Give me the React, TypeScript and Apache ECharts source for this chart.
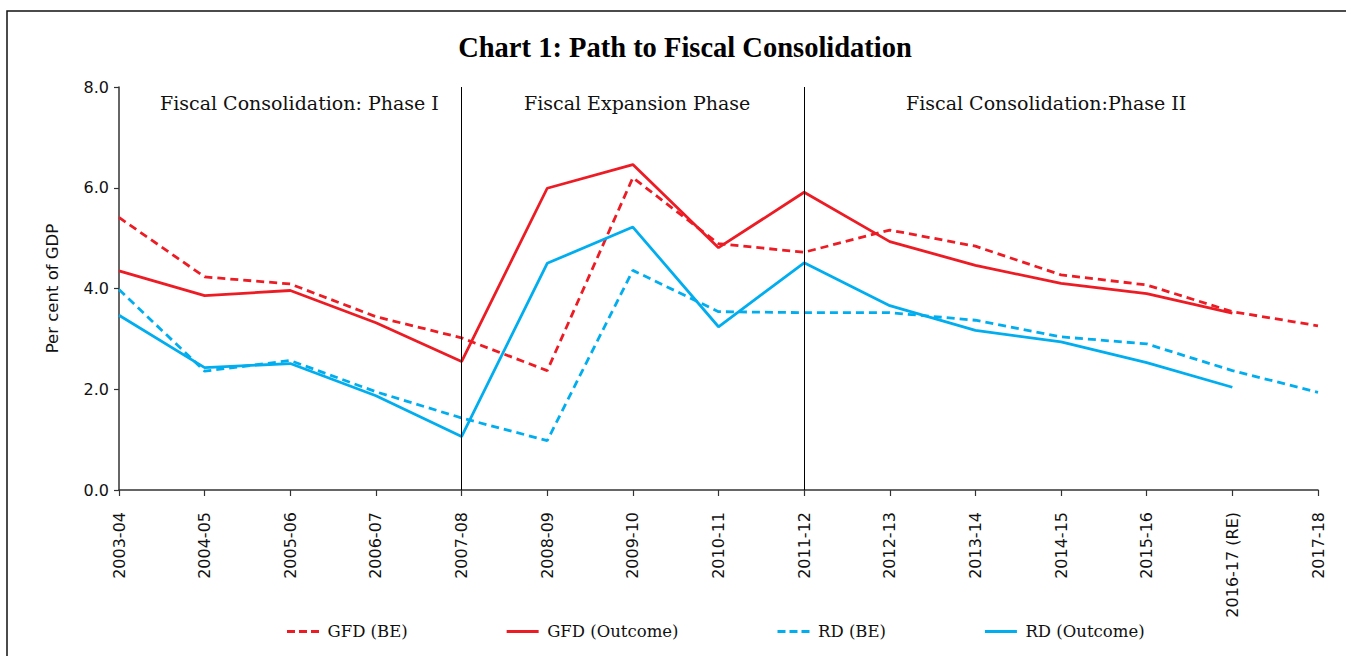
import React, { useEffect, useRef } from "react";
import * as echarts from "echarts";

const categories = [
  "2003-04", "2004-05", "2005-06", "2006-07", "2007-08", "2008-09", "2009-10",
  "2010-11", "2011-12", "2012-13", "2013-14", "2014-15", "2015-16", "2016-17 (RE)", "2017-18",
];
const gfdBE = [5.41, 4.23, 4.09, 3.44, 3.02, 2.37, 6.2, 4.89, 4.72, 5.16, 4.84, 4.27, 4.07, 3.54, 3.26];
const gfdOutcome = [4.35, 3.86, 3.96, 3.32, 2.55, 5.99, 6.46, 4.81, 5.91, 4.93, 4.46, 4.1, 3.9, 3.51, null];
const rdBE = [3.98, 2.36, 2.57, 1.95, 1.43, 0.98, 4.36, 3.54, 3.52, 3.52, 3.37, 3.04, 2.9, 2.37, 1.94];
const rdOutcome = [3.47, 2.43, 2.51, 1.87, 1.06, 4.5, 5.22, 3.24, 4.51, 3.66, 3.17, 2.94, 2.53, 2.04, null];
const phaseBoundaries = ["2007-08", "2011-12"];
const phaseLabels = ["Fiscal Consolidation: Phase I", "Fiscal Expansion Phase", "Fiscal Consolidation:Phase II"];
const yTicks = { min: 0, max: 8, interval: 2 };

const RED = "#ED1C24";
const BLUE = "#00AEEF";
const DASH_ICON = "path://M0,0h8v3h-8z M12,0h8v3h-8z M24,0h8v3h-8z";
const SOLID_ICON = "path://M0,0h32v3h-32z";

export default function App() {
  const ref = useRef<HTMLDivElement>(null);
  useEffect(() => {
    if (!ref.current) return;
    const chart = echarts.init(ref.current, null, { renderer: "svg" });
    const gridLeft = 119;
    const gridRight = 28;
    const phaseX = [160, 524, 906];
    const serifText = "DejaVu Serif";
    const lineSeries = (name: string, data: (number | null)[], color: string, dashed: boolean, extra: any = {}) => ({
      name,
      type: "line",
      data,
      symbol: "none",
      connectNulls: false,
      lineStyle: { color, width: 2.8, type: dashed ? [8, 5] : "solid" },
      itemStyle: { color },
      ...extra,
    });
    chart.setOption({
      animation: false,
      backgroundColor: "#fff",
      grid: { left: gridLeft, right: gridRight, top: 87, bottom: 166 },
      xAxis: {
        type: "category",
        data: categories,
        boundaryGap: false,
        axisLine: { lineStyle: { color: "#333", width: 1.5 } },
        axisTick: { show: true, length: 6, interval: 0, lineStyle: { color: "#333", width: 1.2 } },
        axisLabel: {
          rotate: 90,
          interval: 0,
          margin: 22,
          color: "#111",
          fontFamily: "DejaVu Sans",
          fontSize: 16,
        },
        splitLine: { show: false },
      },
      yAxis: {
        type: "value",
        min: yTicks.min,
        max: yTicks.max,
        interval: yTicks.interval,
        name: "Per cent of GDP",
        nameLocation: "middle",
        nameGap: 58,
        nameTextStyle: { color: "#111", fontFamily: "DejaVu Sans", fontSize: 16.5 },
        axisLine: { show: true, lineStyle: { color: "#333", width: 1.5 } },
        axisTick: { show: true, length: 5, lineStyle: { color: "#333", width: 1.2 } },
        axisLabel: {
          margin: 10,
          color: "#111",
          fontFamily: "DejaVu Sans",
          fontSize: 16,
          formatter: (v: number) => v.toFixed(1),
        },
        splitLine: { show: false },
      },
      legend: {
        left: 282,
        top: 618,
        itemWidth: 33,
        itemHeight: 3,
        itemGap: 99,
        textStyle: { color: "#111", fontFamily: serifText, fontSize: 16.5, padding: [0, 0, 0, 3] },
        data: [
          { name: "GFD (BE)", icon: DASH_ICON },
          { name: "GFD (Outcome)", icon: SOLID_ICON },
          { name: "RD (BE)", icon: DASH_ICON },
          { name: "RD (Outcome)", icon: SOLID_ICON },
        ],
      },
      series: [
        lineSeries("GFD (BE)", gfdBE, RED, true, {
          markLine: {
            silent: true,
            symbol: "none",
            label: { show: false },
            lineStyle: { color: "#000", width: 1, type: "solid" },
            data: phaseBoundaries.map((c) => ({ xAxis: c })),
          },
        }),
        lineSeries("GFD (Outcome)", gfdOutcome, RED, false),
        lineSeries("RD (BE)", rdBE, BLUE, true),
        lineSeries("RD (Outcome)", rdOutcome, BLUE, false),
      ],
      graphic: [
        {
          type: "rect",
          shape: { x: 7, y: 11, width: 1360, height: 700 },
          style: { fill: "none", stroke: "#111", lineWidth: 1.5 },
          silent: true,
        },
        {
          type: "text",
          x: 685,
          y: 47,
          style: {
            text: "Chart 1: Path to Fiscal Consolidation",
            fontFamily: "Liberation Serif",
            fontWeight: "bold",
            fontSize: 28.5,
            fill: "#000",
            align: "center",
            verticalAlign: "middle",
          },
        },
        ...phaseLabels.map((t, i) => ({
          type: "text",
          x: phaseX[i],
          y: 103,
          style: {
            text: t,
            fontFamily: serifText,
            fontSize: 19,
            fill: "#111",
            align: "left",
            verticalAlign: "middle",
          },
        })),
      ],
    });
    return () => chart.dispose();
  }, []);
  return (
    <div
      ref={ref}
      style={{ position: "absolute", left: 0, top: 0, width: 1346, height: 656 }}
    />
  );
}
